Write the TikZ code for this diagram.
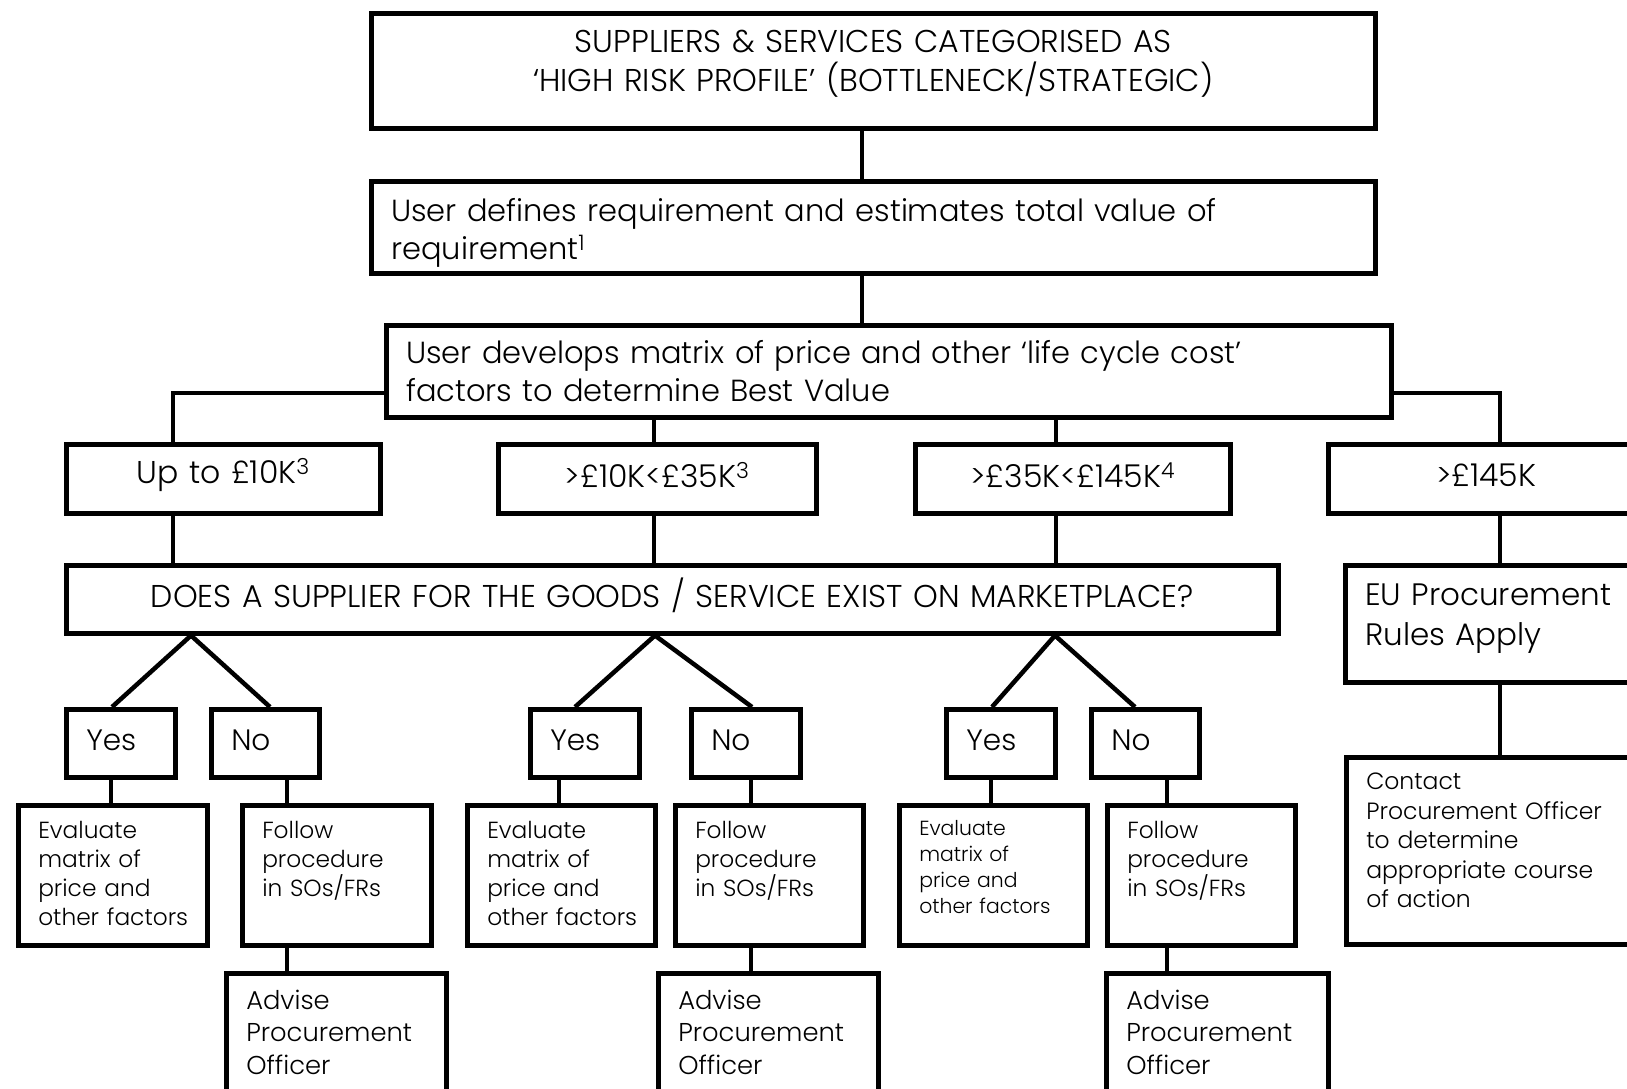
\documentclass[tikz,border=0pt]{standalone}
\usepackage{fontspec}
\setmainfont{Poppins Light}

\begin{document}
\begin{tikzpicture}[x=1pt, y=-1pt,
    box/.style={draw, line width=4.5pt, anchor=north west, inner xsep=20pt, inner ysep=0pt, align=left},
    link/.style={line width=4.5pt},
    headfont/.style={font=\fontsize{31.5}{39}\selectfont},
    bodyfont/.style={font=\fontsize{30.5}{38}\selectfont},
    leaffont/.style={font=\fontsize{23.3}{29}\selectfont}]
  \useasboundingbox (0,0) rectangle (1627,1088);
  \clip (0,0) rectangle (1627,1088);

  % top of the tree
  \node[box, headfont, align=center, minimum width=1004pt, minimum height=115pt, text width=964pt] (top) at (369,11)
    {SUPPLIERS \& SERVICES CATEGORISED AS\\‘HIGH RISK PROFILE’ (BOTTLENECK/STRATEGIC)\vspace{14pt}};
  \node[box, bodyfont, minimum width=1004pt, minimum height=92pt, text width=964pt] (req) at (369,179)
    {\rule{0pt}{34pt}User defines requirement and estimates total value of\\requirement\textsuperscript{1}};
  \node[box, bodyfont, minimum width=1005pt, minimum height=92pt, text width=965pt] (matrix) at (384,323)
    {User develops matrix of price and other ‘life cycle cost’\\factors to determine Best Value};

  % value bands
  \node[box, font=\fontsize{31.5}{38}\selectfont, align=center, minimum width=314pt, minimum height=69pt, text width=274pt] (r1) at (64,442) {Up to £10K\textsuperscript{3}\vspace{8pt}};
  \node[box, font=\fontsize{31.5}{38}\selectfont, align=center, minimum width=318pt, minimum height=69pt, text width=278pt] (r2) at (496,442) {>£10K<£35K\textsuperscript{3}\vspace{8pt}};
  \node[box, font=\fontsize{31.5}{38}\selectfont, align=center, minimum width=315pt, minimum height=69pt, text width=275pt] (r3) at (913,442) {>£35K<£145K\textsuperscript{4}\vspace{8pt}};
  \node[box, font=\fontsize{31.5}{38}\selectfont, align=center, minimum width=316pt, minimum height=69pt, text width=276pt] (r4) at (1326,442) {>£145K\vspace{8pt}};

  \node[box, font=\fontsize{31.5}{38}\selectfont, align=center, minimum width=1212pt, minimum height=68pt, text width=1172pt] (ask) at (64,563)
    {DOES A SUPPLIER FOR THE GOODS / SERVICE EXIST ON MARKETPLACE?\vspace{8pt}};
  \node[box, font=\fontsize{31}{40}\selectfont, minimum width=360pt, minimum height=117pt, text width=320pt] (eu) at (1343,563)
    {EU Procurement\\Rules Apply\vspace{10pt}};

  % answers
  \node[box, font=\fontsize{29.5}{36}\selectfont, minimum width=109pt, minimum height=68pt, text width=69pt] (yes1) at (64,707) {Yes\vspace{6pt}};
  \node[box, font=\fontsize{29.5}{36}\selectfont, minimum width=108pt, minimum height=68pt, text width=68pt] (no1) at (209,707) {No\vspace{6pt}};
  \node[box, font=\fontsize{29.5}{36}\selectfont, minimum width=109pt, minimum height=68pt, text width=69pt] (yes2) at (528,707) {Yes\vspace{6pt}};
  \node[box, font=\fontsize{29.5}{36}\selectfont, minimum width=109pt, minimum height=68pt, text width=69pt] (no2) at (689,707) {No\vspace{6pt}};
  \node[box, font=\fontsize{29.5}{36}\selectfont, minimum width=109pt, minimum height=68pt, text width=69pt] (yes3) at (944,707) {Yes\vspace{6pt}};
  \node[box, font=\fontsize{29.5}{36}\selectfont, minimum width=108pt, minimum height=68pt, text width=68pt] (no3) at (1089,707) {No\vspace{6pt}};

  % actions
  \node[box, leaffont, minimum width=189pt, minimum height=140pt, text width=149pt] (eval1) at (16,803) {Evaluate\\\mbox{matrix of}\\\mbox{price and}\\\mbox{other factors}\vspace{4pt}};
  \node[box, leaffont, minimum width=189pt, minimum height=140pt, text width=149pt] (follow1) at (240,803) {Follow\\procedure\\\mbox{in SOs/FRs}\\\mbox{}\vspace{4pt}};
  \node[box, leaffont, minimum width=188pt, minimum height=140pt, text width=148pt] (eval2) at (465,803) {Evaluate\\\mbox{matrix of}\\\mbox{price and}\\\mbox{other factors}\vspace{4pt}};
  \node[box, leaffont, minimum width=188pt, minimum height=140pt, text width=148pt] (follow2) at (673,803) {Follow\\procedure\\\mbox{in SOs/FRs}\\\mbox{}\vspace{4pt}};
  \node[box, font=\fontsize{20.4}{26}\selectfont, minimum width=188pt, minimum height=140pt, text width=148pt] (eval3) at (897,803) {Evaluate\\\mbox{matrix of}\\\mbox{price and}\\\mbox{other factors}\vspace{16pt}};
  \node[box, leaffont, minimum width=188pt, minimum height=140pt, text width=148pt] (follow3) at (1105,803) {Follow\\procedure\\\mbox{in SOs/FRs}\\\mbox{}\vspace{4pt}};
  \node[box, font=\fontsize{23.5}{29.5}\selectfont, minimum width=360pt, minimum height=187pt, text width=320pt] (contact) at (1344,755)
    {Contact\\\mbox{Procurement Officer}\\\mbox{to determine}\\\mbox{appropriate course}\\\mbox{of action}\vspace{20pt}};

  \node[box, font=\fontsize{25.8}{32.5}\selectfont, minimum width=220pt, minimum height=118pt, text width=180pt] (adv1) at (224,971) {Advise\\Procurement\\Officer};
  \node[box, font=\fontsize{25.8}{32.5}\selectfont, minimum width=220pt, minimum height=118pt, text width=180pt] (adv2) at (656,971) {Advise\\Procurement\\Officer};
  \node[box, font=\fontsize{25.8}{32.5}\selectfont, minimum width=222pt, minimum height=118pt, text width=182pt] (adv3) at (1104,971) {Advise\\Procurement\\Officer};

  % connectors
  \draw[link] (top.south -| 862,0) -- (req.north -| 862,0);
  \draw[link] (req.south -| 862,0) -- (matrix.north -| 862,0);
  \draw[link] (matrix.west |- 0,393) -| (r1.north -| 173,0);
  \draw[link] (matrix.east |- 0,393) -| (r4.north -| 1500,0);
  \draw[link] (matrix.south -| 654,0) -- (r2.north -| 654,0);
  \draw[link] (matrix.south -| 1056,0) -- (r3.north -| 1056,0);
  \draw[link] (r1.south -| 173,0) -- (ask.north -| 173,0);
  \draw[link] (r2.south -| 654,0) -- (ask.north -| 654,0);
  \draw[link] (r3.south -| 1056,0) -- (ask.north -| 1056,0);
  \draw[link] (r4.south -| 1500,0) -- (eu.north -| 1500,0);
  \draw[link] (eu.south -| 1500,0) -- (contact.north -| 1500,0);

  \foreach \i/\ya/\va/\na/\yx/\nx in {1/112/191/270/111/287, 2/575/655/752/559/751, 3/992/1055/1135/991/1167} {
    \draw[link] (yes\i.north -| \ya,0) -- (ask.south -| \va,0) -- (no\i.north -| \na,0);
    \draw[link] (yes\i.south -| \yx,0) -- (eval\i.north -| \yx,0);
    \draw[link] (no\i.south -| \nx,0) -- (follow\i.north -| \nx,0);
    \draw[link] (follow\i.south -| \nx,0) -- (adv\i.north -| \nx,0);
  }
\end{tikzpicture}
\end{document}
